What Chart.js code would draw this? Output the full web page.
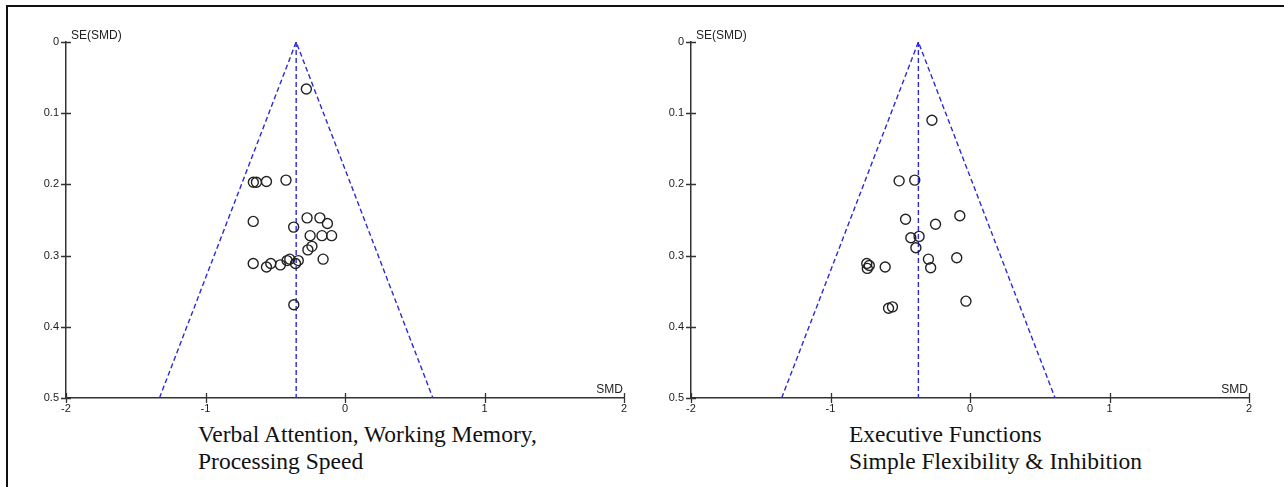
<!DOCTYPE html>
<html>
<head>
<meta charset="utf-8">
<script src="https://cdn.jsdelivr.net/npm/chart.js@4"></script>
<style>
  body { margin: 0; background: #fff; }
  #page { position: relative; width: 1284px; height: 487px; overflow: hidden; background: #fff; }
  .frame { position: absolute; left: 6px; top: 5px; right: -4px; bottom: -4px; border-left: 2px solid #111; border-top: 2px solid #111; }
  .plot { position: absolute; top: 0; width: 642px; height: 420px; }
  .caption { position: absolute; top: 421px; font-family: "Liberation Serif", "Times New Roman", serif; font-size: 23.5px; line-height: 27px; color: #111; white-space: nowrap; }
</style>
</head>
<body>
<div id="page">
  <div class="frame"></div>
  <div class="plot" style="left:0"><canvas id="leftChart"></canvas></div>
  <div class="plot" style="left:625px"><canvas id="rightChart"></canvas></div>
  <div class="caption" style="left:198px">Verbal Attention, Working Memory,<br>Processing Speed</div>
  <div class="caption" style="left:849px">Executive Functions<br>Simple Flexibility &amp; Inhibition</div>
</div>
<script>
// funnel plot data

const xTickLabels = ['-2', '-1', '0', '1', '2'];
const yTickLabels = ['0', '0.1', '0.2', '0.3', '0.4', '0.5'];

// left panel: verbal attention, working memory, processing speed
const leftSmd = [-0.277, -0.657, -0.635, -0.563, -0.423, -0.658, -0.368, -0.272, -0.18, -0.126,
                 -0.25, -0.165, -0.096, -0.237, -0.266, -0.157, -0.658, -0.563, -0.532, -0.463,
                 -0.415, -0.396, -0.355, -0.335, -0.367];
const leftSe  = [0.066, 0.197, 0.197, 0.196, 0.194, 0.252, 0.260, 0.247, 0.247, 0.255,
                 0.272, 0.272, 0.272, 0.287, 0.292, 0.305, 0.311, 0.316, 0.311, 0.313,
                 0.307, 0.305, 0.311, 0.307, 0.369];
const leftFunnelX = [-1.33, -0.35, 0.63];
const leftPooledX = [-0.35, -0.35];

// right panel: executive functions, simple flexibility & inhibition
const rightSmd = [-0.273, -0.508, -0.396, -0.462, -0.073, -0.247, -0.424, -0.365, -0.388, -0.298,
                  -0.282, -0.095, -0.74, -0.722, -0.736, -0.608, -0.029, -0.584, -0.556];
const rightSe  = [0.110, 0.195, 0.194, 0.249, 0.244, 0.256, 0.275, 0.273, 0.289, 0.305,
                  0.317, 0.303, 0.311, 0.314, 0.318, 0.316, 0.364, 0.374, 0.372];
const rightFunnelX = [-1.35, -0.37, 0.61];
const rightPooledX = [-0.37, -0.37];

const funnelSe = [0.5, 0, 0.5];
const pooledSe = [0, 0.5];

const axisColor = '#333';
const funnelColor = '#2b2bd6';
const labelFont = '"Liberation Sans", Arial, sans-serif';

function toPoints(xs, ys) {
    return xs.map((x, i) => ({x: x, y: ys[i]}));
}

// cross-shaped tick marks and the SE(SMD) / SMD labels
const axisDecor = {
    id: 'axisDecor',
    afterDraw(chart) {
        const ctx = chart.ctx;
        const area = chart.chartArea;
        const xs = chart.scales.x;
        const ys = chart.scales.y;
        ctx.save();
        ctx.strokeStyle = axisColor;
        ctx.lineWidth = 1.3;
        ctx.beginPath();
        xs.ticks.forEach((t, i) => {
            const px = Math.round(xs.getPixelForTick(i)) + 0.5;
            ctx.moveTo(px, area.bottom - 5);
            ctx.lineTo(px, area.bottom + 5);
        });
        ys.ticks.forEach((t, i) => {
            const py = Math.round(ys.getPixelForTick(i)) + 0.5;
            ctx.moveTo(area.left - 5, py);
            ctx.lineTo(area.left + 5, py);
        });
        ctx.stroke();
        ctx.fillStyle = '#222';
        ctx.font = '12px ' + labelFont;
        ctx.textBaseline = 'alphabetic';
        ctx.textAlign = 'left';
        ctx.fillText('SE(SMD)', area.left + 5, area.top - 3);
        ctx.textAlign = 'right';
        ctx.fillText('SMD', area.right - 1, area.bottom - 5);
        ctx.restore();
    }
};

function makeFunnel(canvasId, smd, se, funnelX, pooledX) {
    return new Chart(document.getElementById(canvasId), {
        type: 'scatter',
        data: {
            datasets: [
                {
                    data: toPoints(smd, se),
                    pointStyle: 'circle',
                    pointRadius: 5,
                    pointHoverRadius: 5,
                    backgroundColor: 'rgba(0,0,0,0)',
                    borderColor: '#222',
                    borderWidth: 1.4
                },
                {
                    type: 'line',
                    data: toPoints(funnelX, funnelSe),
                    borderColor: funnelColor,
                    borderWidth: 1.4,
                    borderDash: [5, 3],
                    pointRadius: 0,
                    fill: false,
                    tension: 0
                },
                {
                    type: 'line',
                    data: toPoints(pooledX, pooledSe),
                    borderColor: funnelColor,
                    borderWidth: 1.4,
                    borderDash: [5, 3],
                    pointRadius: 0,
                    fill: false
                }
            ]
        },
        options: {
            responsive: false,
            animation: false,
            layout: { padding: { top: 42, right: 18, left: 0, bottom: 0 } },
            plugins: { legend: { display: false }, tooltip: { enabled: false } },
            scales: {
                x: {
                    type: 'linear',
                    min: -2,
                    max: 2,
                    afterFit(scale) { scale.height = 22; },
                    grid: { display: true, drawOnChartArea: false, drawTicks: false },
                    border: { display: true, color: axisColor, width: 1.5 },
                    ticks: {
                        stepSize: 1,
                        padding: 4,
                        color: '#222',
                        font: { family: labelFont, size: 11 },
                        maxRotation: 0,
                        callback: (v) => xTickLabels[Math.round(v) + 2]
                    }
                },
                y: {
                    type: 'linear',
                    min: 0,
                    max: 0.5,
                    reverse: true,
                    afterFit(scale) { scale.width = 66; },
                    grid: { display: true, drawOnChartArea: false, drawTicks: false },
                    border: { display: true, color: axisColor, width: 1.5 },
                    ticks: {
                        stepSize: 0.1,
                        padding: 7,
                        color: '#222',
                        font: { family: labelFont, size: 11 },
                        callback: (v) => yTickLabels[Math.round(v * 10)]
                    }
                }
            }
        },
        plugins: [axisDecor]
    });
}

document.getElementById('leftChart').width = 642;
document.getElementById('leftChart').height = 420;
document.getElementById('rightChart').width = 642;
document.getElementById('rightChart').height = 420;

makeFunnel('leftChart', leftSmd, leftSe, leftFunnelX, leftPooledX);
makeFunnel('rightChart', rightSmd, rightSe, rightFunnelX, rightPooledX);
</script>
</body>
</html>
